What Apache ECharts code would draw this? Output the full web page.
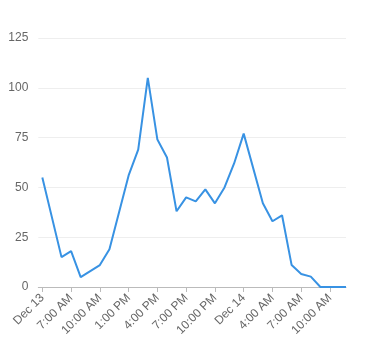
<!DOCTYPE html>
<html><head><meta charset="utf-8">
<script src="https://cdn.jsdelivr.net/npm/echarts@6/dist/echarts.min.js"></script>
<style>html,body{margin:0;padding:0;background:#fff}#c{width:366px;height:357px}</style>
</head><body><div id="c"></div>
<script>
// hours since first tick ("Dec 13")
const hours  = [0, 2, 3, 4, 6, 7, 9, 10, 11, 12, 13, 14, 15, 16, 17, 18, 19, 20, 21, 23, 24, 25, 26, 27, 28, 29, 30, 31, 31.67];
const values = [55, 15, 18, 5, 11, 19, 56, 69, 105, 74, 65, 38, 45, 43, 49, 42, 50, 62, 77, 42, 33, 36, 11, 6.5, 5.2, 0, 0, 0, 0];
const tickHours  = [0, 3, 6, 9, 12, 15, 18, 21, 24, 27, 30];
const tickLabels = ['Dec 13', '7:00 AM', '10:00 AM', '1:00 PM', '4:00 PM', '7:00 PM', '10:00 PM', 'Dec 14', '4:00 AM', '7:00 AM', '10:00 AM'];
const yTicks = [0, 25, 50, 75, 100, 125];

const chart = echarts.init(document.getElementById('c'));
chart.setOption({
  animation: false,
  grid: { left: 38.3, right: 20, top: 38, bottom: 70, containLabel: false },
  xAxis: {
    type: 'value', min: -0.42, max: 31.67,
    splitLine: { show: false },
    axisLine: { show: true, lineStyle: { color: '#bbb' } },
    axisTick: { show: true, customValues: tickHours, length: 5, lineStyle: { color: '#bbb' } },
    axisLabel: {
      customValues: tickHours, rotate: 45, color: '#666', fontSize: 12,
      fontFamily: 'Liberation Sans, Arial, sans-serif', margin: 9,
      formatter: v => { const i = tickHours.indexOf(Math.round(v)); return i >= 0 ? tickLabels[i] : ''; }
    }
  },
  yAxis: {
    type: 'value', min: 0, max: 125, interval: 25,
    axisLine: { show: false }, axisTick: { show: false },
    splitLine: { lineStyle: { color: '#eee' } },
    axisLabel: { color: '#666', fontSize: 12, fontFamily: 'Liberation Sans, Arial, sans-serif', margin: 10,
      formatter: v => yTicks.includes(v) ? String(v) : '' }
  },
  series: [{
    type: 'line', showSymbol: false, symbol: 'none',
    data: hours.map((h, i) => [h, values[i]]),
    lineStyle: { color: '#3892e3', width: 2 }
  }]
});
</script></body></html>
